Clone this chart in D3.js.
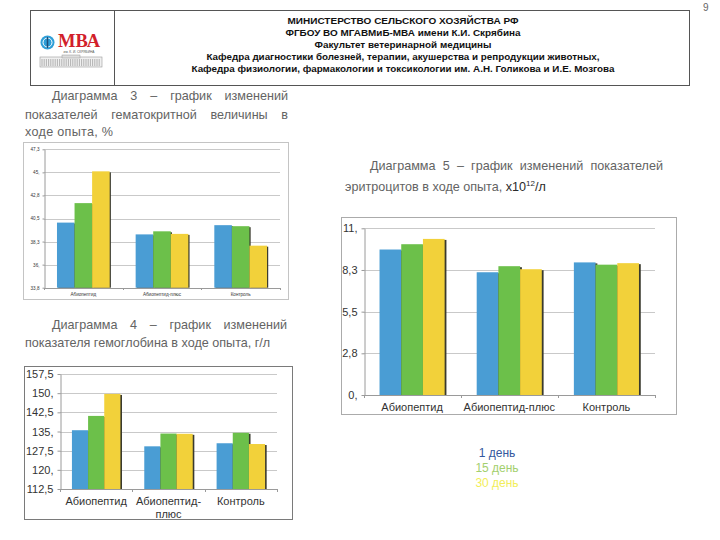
<!DOCTYPE html>
<html>
<head>
<meta charset="utf-8">
<script src="https://cdn.jsdelivr.net/npm/d3@7"></script>
<style>
  html, body { margin: 0; padding: 0; background: #fff; }
  svg { display: block; }
</style>
</head>
<body>
<svg id="slide" width="720" height="540"></svg>
<script>
// ---------------- DATA ----------------
const categories = ["Абиопептид", "Абиопептид-плюс", "Контроль"];
const seriesNames = ["1 день", "15 день", "30 день"];

// Diagram 3 – hematocrit, %
const hematocritDay1  = [40.1, 38.95, 39.85];
const hematocritDay15 = [42.0, 39.25, 39.75];
const hematocritDay30 = [45.1, 39.0, 37.85];
const hematocritTickValues = [33.75, 36, 38.25, 40.5, 42.75, 45, 47.25];
const hematocritTickLabels = ["33,8", "36,", "38,3", "40,5", "42,8", "45,", "47,3"];

// Diagram 4 – hemoglobin, g/l
const hemoglobinDay1  = [135.5, 129.2, 130.4];
const hemoglobinDay15 = [141.1, 134.2, 134.5];
const hemoglobinDay30 = [149.7, 134.1, 130.1];
const hemoglobinTickValues = [112.5, 120, 127.5, 135, 142.5, 150, 157.5];
const hemoglobinTickLabels = ["112,5", "120,", "127,5", "135,", "142,5", "150,", "157,5"];

// Diagram 5 – erythrocytes, x10^12/l
const erythroDay1  = [9.6, 8.1, 8.75];
const erythroDay15 = [9.95, 8.5, 8.6];
const erythroDay30 = [10.3, 8.3, 8.7];
const erythroTickValues = [0, 2.75, 5.5, 8.25, 11];
const erythroTickLabels = ["0,", "2,8", "5,5", "8,3", "11,"];

const barColors = ["#4a9dd4", "#6cc04a", "#f2d13a"];
const legendColors = ["#34589e", "#a3cf6e", "#f2ee5a"];

const headerLines = [
  "МИНИСТЕРСТВО СЕЛЬСКОГО ХОЗЯЙСТВА РФ",
  "ФГБОУ ВО МГАВМиБ-МВА имени К.И. Скрябина",
  "Факультет ветеринарной медицины",
  "Кафедра диагностики болезней, терапии, акушерства и репродукции животных,",
  "Кафедра физиологии, фармакологии и токсикологии им. А.Н. Голикова и И.Е. Мозгова"
];

// ---------------- DRAW ----------------
const svg = d3.select("#slide");
const SANS = "'Liberation Sans', Arial, sans-serif";

// page number
svg.append("text").attr("x", 703).attr("y", 11).attr("font-family", SANS)
  .attr("font-size", 10).attr("fill", "#666").text("9");

// header box
const hdr = svg.append("g");
hdr.append("rect").attr("x", 30.5).attr("y", 10.5).attr("width", 659).attr("height", 75)
  .attr("fill", "none").attr("stroke", "#555").attr("stroke-width", 1);
hdr.append("line").attr("x1", 114.5).attr("x2", 114.5).attr("y1", 10.5).attr("y2", 85.5)
  .attr("stroke", "#555");
const headerWidths = [231, 235, 177, 393, 423];
headerLines.forEach((t, i) => {
  hdr.append("text").attr("x", 403).attr("y", 23.5 + i * 12)
    .attr("text-anchor", "middle").attr("font-family", SANS)
    .attr("font-size", 9.6).attr("font-weight", "bold").attr("fill", "#111")
    .attr("textLength", headerWidths[i]).attr("lengthAdjust", "spacingAndGlyphs")
    .text(t);
});

// logo
const logo = svg.append("g");
logo.append("circle").attr("cx", 47.5).attr("cy", 42.5).attr("r", 7).attr("fill", "#2f9fd8");
logo.append("circle").attr("cx", 47.5).attr("cy", 42.5).attr("r", 4.5).attr("fill", "none")
  .attr("stroke", "#fff").attr("stroke-width", 1);
logo.append("line").attr("x1", 47.5).attr("x2", 47.5).attr("y1", 37).attr("y2", 48)
  .attr("stroke", "#1d4f7a").attr("stroke-width", 1.5);
logo.append("text").attr("x", 58).attr("y", 47).attr("font-family", "'Liberation Serif', serif")
  .attr("font-weight", "bold").attr("font-size", 19).attr("fill", "#d21f2b")
  .attr("textLength", 42).attr("lengthAdjust", "spacingAndGlyphs").text("МВА");
logo.append("text").attr("x", 79).attr("y", 52.5).attr("text-anchor", "middle")
  .attr("font-family", SANS).attr("font-size", 3.2).attr("fill", "#555").text("им. К. И. СКРЯБИНА");
logo.append("rect").attr("x", 40).attr("y", 57).attr("width", 62).attr("height", 10)
  .attr("fill", "#f0f0f0").attr("stroke", "#999").attr("stroke-width", 0.6);
d3.range(42, 101, 2.2).forEach(x => {
  logo.append("line").attr("x1", x).attr("x2", x).attr("y1", 59).attr("y2", 66)
    .attr("stroke", "#888").attr("stroke-width", 0.6);
});
logo.append("rect").attr("x", 62).attr("y", 55).attr("width", 18).attr("height", 3)
  .attr("fill", "#ddd").attr("stroke", "#999").attr("stroke-width", 0.5);

// caption helpers
const CAP_FONT = "'Liberation Sans', Arial, sans-serif";
const CAP_SIZE = 12.6;
const CAP_FILL = "#636363";
function capText(parent, x, y) {
  return parent.append("text").attr("x", x).attr("y", y)
    .attr("font-family", CAP_FONT).attr("font-size", CAP_SIZE).attr("fill", CAP_FILL);
}
function justifyLine(parent, text, x0, x1, y) {
  const words = text.split(" ");
  const nodes = words.map(w => capText(parent, 0, y).text(w));
  const widths = nodes.map(n => n.node().getComputedTextLength());
  const gap = (x1 - x0 - d3.sum(widths)) / (words.length - 1);
  let x = x0;
  nodes.forEach((n, i) => { n.attr("x", x); x += widths[i] + gap; });
}

const caps = svg.append("g");
justifyLine(caps, "Диаграмма 3 – график изменений", 52, 288, 99.5);
justifyLine(caps, "показателей гематокритной величины в", 25, 288, 118.5);
capText(caps, 25, 135.5).attr("letter-spacing", 0.3).text("ходе опыта, %");

justifyLine(caps, "Диаграмма 4 – график изменений", 52, 287, 329);
capText(caps, 25, 347).text("показателя гемоглобина в ходе опыта, г/л");

justifyLine(caps, "Диаграмма 5 – график изменений показателей", 370, 663, 169.5);
const c5 = capText(caps, 345, 191);
c5.append("tspan").text("эритроцитов в ходе опыта, ");
c5.append("tspan").attr("fill", "#2a2a2a").text("x10");
c5.append("tspan").attr("fill", "#2a2a2a").attr("font-size", 8).attr("dy", -5).text("12");
c5.append("tspan").attr("fill", "#2a2a2a").attr("dy", 5).text("/л");

// generic grouped-bar chart
function barChart(o) {
  const g = svg.append("g");
  g.append("rect").attr("x", o.frame[0] + 0.5).attr("y", o.frame[1] + 0.5)
    .attr("width", o.frame[2]).attr("height", o.frame[3])
    .attr("fill", "#fff").attr("stroke", o.frameColor).attr("stroke-width", 1);

  const y = d3.scaleLinear().domain(o.domain).range([o.bottom, o.top]);
  const x0 = d3.scaleBand().domain(categories).range([o.left, o.right])
    .paddingInner(0.33).paddingOuter(0.165);
  const x1 = d3.scaleBand().domain(seriesNames).range([0, x0.bandwidth()]);

  // gridlines
  g.append("g").selectAll("line").data(o.tickValues).join("line")
    .attr("x1", o.left).attr("x2", o.right)
    .attr("y1", d => Math.round(y(d)) + 0.5).attr("y2", d => Math.round(y(d)) + 0.5)
    .attr("stroke", "#c9c9c9").attr("stroke-width", 1);

  // bars with right-side shadow
  const rows = categories.map((c, i) => ({ cat: c, vals: o.series.map(s => s[i]) }));
  const groups = g.append("g").selectAll("g").data(rows).join("g")
    .attr("transform", d => `translate(${x0(d.cat)},0)`);
  seriesNames.forEach((s, k) => {
    groups.append("rect")
      .attr("x", x1(s) + o.shadow).attr("y", d => y(d.vals[k]) + 1)
      .attr("width", x1.bandwidth()).attr("height", d => o.bottom - y(d.vals[k]) - 1)
      .attr("fill", "#3a3a2e");
    groups.append("rect")
      .attr("x", x1(s)).attr("y", d => y(d.vals[k]))
      .attr("width", x1.bandwidth()).attr("height", d => o.bottom - y(d.vals[k]))
      .attr("fill", barColors[k]);
  });

  // y axis
  const yAxis = d3.axisLeft(y).tickValues(o.tickValues)
    .tickFormat((d, i) => o.tickLabels[i]).tickSizeInner(o.tickLen).tickSizeOuter(0).tickPadding(o.tickPad);
  const ya = g.append("g").attr("transform", `translate(${Math.round(o.left) + 0.5},0)`).call(yAxis);
  ya.select(".domain").attr("stroke", "#9a9a9a");
  ya.selectAll(".tick line").attr("stroke", "#9a9a9a");
  ya.selectAll(".tick text").attr("font-family", SANS).attr("font-size", o.tickFont).attr("fill", "#333");

  // x axis
  const bounds = [o.left, ...categories.map(c => x0(c) + x0.bandwidth() + x0.step() * 0.165)];
  g.append("line").attr("x1", o.left).attr("x2", o.right)
    .attr("y1", Math.round(o.bottom) + 0.5).attr("y2", Math.round(o.bottom) + 0.5).attr("stroke", "#9a9a9a");
  g.append("g").selectAll("line").data(bounds).join("line")
    .attr("x1", d => Math.round(d) + 0.5).attr("x2", d => Math.round(d) + 0.5)
    .attr("y1", Math.round(o.bottom)).attr("y2", Math.round(o.bottom) + o.tickLen)
    .attr("stroke", "#9a9a9a");
  const lab = g.append("g").selectAll("text").data(categories).join("text")
    .attr("x", d => x0(d) + x0.bandwidth() / 2).attr("y", o.catY)
    .attr("text-anchor", "middle").attr("font-family", SANS)
    .attr("font-size", o.catFont).attr("fill", "#333");
  lab.each(function(d) {
    const parts = o.wrap && d.includes("-") ? [d.split("-")[0] + "-", d.split("-")[1]] : [d];
    const t = d3.select(this);
    parts.forEach((p, i) => {
      t.append("tspan").attr("x", x0(d) + x0.bandwidth() / 2).attr("dy", i ? o.catFont * 1.15 : 0).text(p);
    });
  });
}

// Diagram 3
barChart({
  frame: [23, 142, 265, 157], frameColor: "#c4c4c4",
  left: 44, right: 280, top: 149.3, bottom: 287.7,
  domain: [33.75, 47.25], tickValues: hematocritTickValues, tickLabels: hematocritTickLabels,
  series: [hematocritDay1, hematocritDay15, hematocritDay30],
  tickFont: 4.6, tickLen: 2, tickPad: 3, catFont: 4.6, catY: 295.5, shadow: 1.2, wrap: false
});

// Diagram 4
barChart({
  frame: [24, 366, 268, 153], frameColor: "#7a7a7a",
  left: 60, right: 277, top: 374, bottom: 489,
  domain: [112.5, 157.5], tickValues: hemoglobinTickValues, tickLabels: hemoglobinTickLabels,
  series: [hemoglobinDay1, hemoglobinDay15, hemoglobinDay30],
  tickFont: 11, tickLen: 3, tickPad: 4, catFont: 11, catY: 505, shadow: 1.6, wrap: true
});

// Diagram 5
barChart({
  frame: [341, 217, 335, 197], frameColor: "#ababab",
  left: 363.5, right: 655, top: 228.3, bottom: 395,
  domain: [0, 11], tickValues: erythroTickValues, tickLabels: erythroTickLabels,
  series: [erythroDay1, erythroDay15, erythroDay30],
  tickFont: 11, tickLen: 3, tickPad: 4, catFont: 11, catY: 411, shadow: 1.8, wrap: false
});

// legend
const leg = svg.append("g");
seriesNames.forEach((s, i) => {
  leg.append("text").attr("x", 497).attr("y", 456.5 + i * 15)
    .attr("text-anchor", "middle").attr("font-family", SANS).attr("font-size", 12)
    .attr("fill", legendColors[i]).text(s);
});
</script>
</body>
</html>
